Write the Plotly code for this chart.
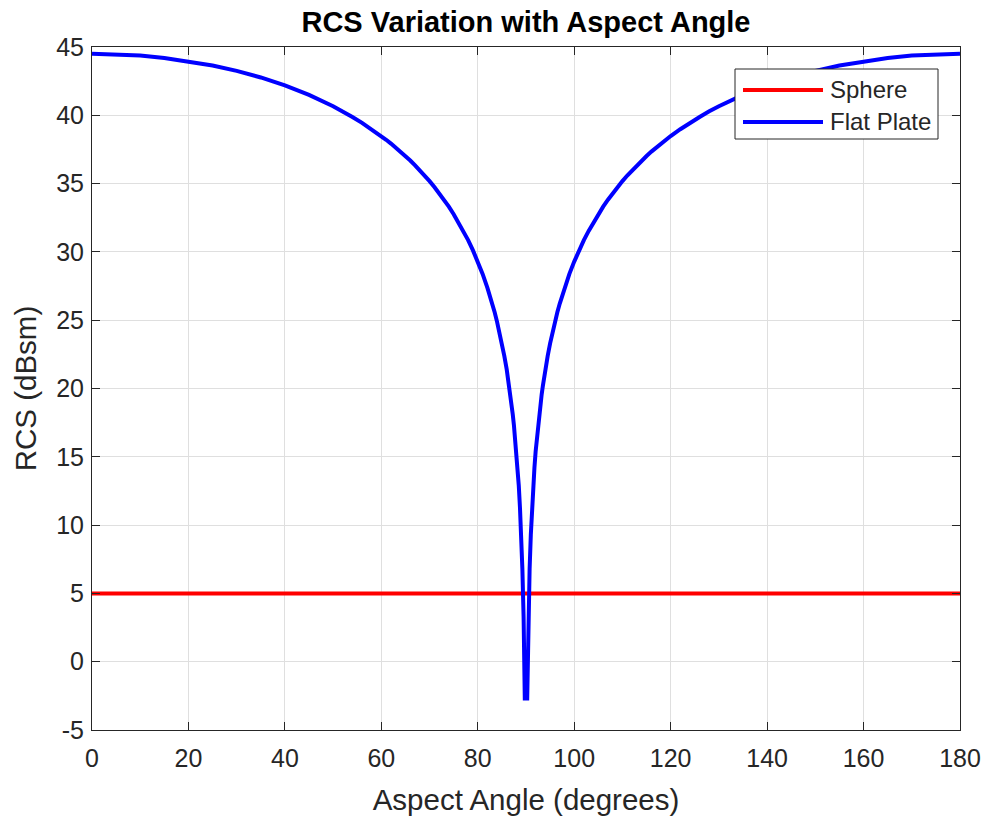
import plotly.graph_objects as go

# Flat-plate RCS (dBsm) versus aspect angle (degrees), approaching broadside
plate_angle_left = [0, 5, 10, 15, 20, 25, 30, 35, 40, 45, 50, 52, 54, 56, 58,
                    60, 61, 62, 63, 64, 65, 66, 67, 68, 69, 70, 71, 72, 73, 74, 75,
                    76, 77, 78, 79, 80, 81, 82, 82.5, 83, 83.5, 84, 84.5, 85, 85.5,
                    86, 86.25, 86.5, 86.75, 87, 87.25, 87.5, 87.75, 88, 88.25, 88.5,
                    88.75, 89, 89.25, 89.5, 89.75]
plate_dbsm_left = [44.5, 44.47, 44.37, 44.2, 43.96, 43.65, 43.25, 42.77, 42.19, 41.49,
                   40.66, 40.29, 39.88, 39.45, 38.98,
                   38.48, 38.21, 37.93, 37.64, 37.34, 37.02, 36.69, 36.34, 35.97, 35.59,
                   35.18, 34.75, 34.3, 33.82, 33.31, 32.76, 32.17, 31.54, 30.86, 30.11,
                   29.29, 28.39, 27.37, 26.81, 26.22, 25.58, 24.88, 24.13, 23.3, 22.39,
                   21.4, 20.81, 20.2, 19.57, 18.9, 18.12, 17.3, 16.38, 15.4, 14.2, 12.9,
                   11.27, 9.3, 6.8, 3.3, -2.7]

# Flat-plate RCS past broadside
plate_angle_right = [90.25, 90.5, 90.75, 91, 91.25, 91.5, 91.75, 92, 92.25, 92.5,
                     92.75, 93, 93.25, 93.5, 93.75, 94, 94.5, 95, 95.5, 96, 96.5, 97,
                     97.5, 98, 99, 100, 101, 102, 103, 104, 105, 106, 107, 108, 109,
                     110, 111, 112, 113, 114, 115, 116, 117, 118, 119, 120, 122, 124,
                     126, 128, 130, 135, 140, 145, 150, 155, 160, 165, 170, 175, 180]
plate_dbsm_right = [-2.7, 3.3, 6.8, 9.3, 11.27, 12.9, 14.2, 15.4, 16.38, 17.3,
                    18.12, 18.9, 19.57, 20.2, 20.81, 21.4, 22.39, 23.3, 24.13, 24.88,
                    25.58, 26.22, 26.81, 27.37, 28.39, 29.29, 30.11, 30.86, 31.54, 32.17,
                    32.76, 33.31, 33.82, 34.3, 34.75, 35.18, 35.59, 35.97, 36.34, 36.69,
                    37.02, 37.34, 37.64, 37.93, 38.21, 38.48, 38.98, 39.45, 39.88, 40.29,
                    40.66, 41.49, 42.19, 42.77, 43.25, 43.65, 43.96, 44.2, 44.37, 44.47,
                    44.5]

# Sphere RCS is independent of aspect angle
sphere_angle = [0, 180]
sphere_dbsm = [5, 5]

x_ticks = [0, 20, 40, 60, 80, 100, 120, 140, 160, 180]
y_ticks = [-5, 0, 5, 10, 15, 20, 25, 30, 35, 40, 45]
y_tick_labels = ["-5", "0", "5", "10", "15", "20", "25", "30", "35", "40", "45"]

series_names = ["Sphere", "Flat Plate"]
series_colors = ["#ff0000", "#0000ff"]

FONT = "Liberation Sans, Arial, Helvetica, sans-serif"
TEXT = "#262626"
LINE_W = 4
W, H = 984, 818
ML, MR, MT, MB = 92, 24, 47, 88
PW, PH = W - ML - MR, H - MT - MB


def px_x(px):
    return (px - ML) / PW


def px_y(py):
    return (H - MB - py) / PH


fig = go.Figure()
fig.add_trace(go.Scatter(x=sphere_angle, y=sphere_dbsm, mode="lines",
                         name=series_names[0], showlegend=False,
                         line=dict(color=series_colors[0], width=LINE_W)))
fig.add_trace(go.Scatter(x=plate_angle_left + plate_angle_right,
                         y=plate_dbsm_left + plate_dbsm_right, mode="lines",
                         name=series_names[1], showlegend=False,
                         line=dict(color=series_colors[1], width=LINE_W)))

axis_common = dict(
    showline=True, linecolor=TEXT, linewidth=1, mirror="ticks",
    ticks="inside", ticklen=8, tickcolor=TEXT, tickwidth=1,
    showgrid=True, gridcolor="#dfdfdf", gridwidth=1, zeroline=False,
    automargin=False,
    tickfont=dict(family=FONT, size=25, color=TEXT),
)

fig.update_layout(
    width=W, height=H,
    margin=dict(l=ML, r=MR, t=MT, b=MB),
    paper_bgcolor="white", plot_bgcolor="white",
    title=dict(text="<b>RCS Variation with Aspect Angle</b>",
               font=dict(family=FONT, size=29, color="black"),
               x=(ML + PW / 2) / W, xanchor="center", xref="container",
               y=1 - 22 / H, yanchor="middle", yref="container"),
    xaxis=dict(range=[0, 180], tickvals=x_ticks, ticklabelstandoff=6,
               title=dict(text="Aspect Angle (degrees)", standoff=18,
                          font=dict(family=FONT, size=29.5, color=TEXT)),
               **axis_common),
    yaxis=dict(range=[-5, 45], tickvals=y_ticks, ticktext=y_tick_labels,
               ticklabelstandoff=2,
               title=dict(text="RCS (dBsm)", standoff=10,
                          font=dict(family=FONT, size=29.5, color=TEXT)),
               **axis_common),
    showlegend=False,
)

# Legend box with long line samples
box_l, box_r, box_t, box_b = 735, 938, 69, 139
fig.add_shape(type="rect", xref="paper", yref="paper",
              x0=px_x(box_l), x1=px_x(box_r), y0=px_y(box_b), y1=px_y(box_t),
              line=dict(color=TEXT, width=1), fillcolor="white", layer="above")
for i, (name, color) in enumerate(zip(series_names, series_colors)):
    row_y = 90 + 32 * i
    fig.add_shape(type="line", xref="paper", yref="paper",
                  x0=px_x(743), x1=px_x(823), y0=px_y(row_y), y1=px_y(row_y),
                  line=dict(color=color, width=LINE_W), layer="above")
    fig.add_annotation(xref="paper", yref="paper", x=px_x(828), y=px_y(row_y),
                       text=name, showarrow=False, xanchor="left", yanchor="middle",
                       font=dict(family=FONT, size=24, color=TEXT))

fig.write_html("out.html")
